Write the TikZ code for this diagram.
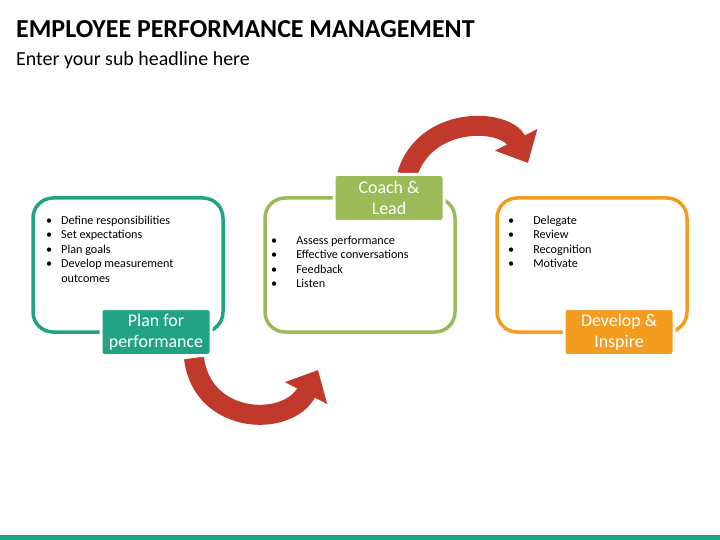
\documentclass[tikz,border=0pt]{standalone}
\usepackage{fontspec}
\setmainfont{Carlito}
\usetikzlibrary{arrows.meta}
\definecolor{teal1}{HTML}{21A383}
\definecolor{green1}{HTML}{9BBB59}
\definecolor{orange1}{HTML}{F39C1F}
\definecolor{red1}{HTML}{C0392B}
\begin{document}
\begin{tikzpicture}[x=1bp,y=-1bp,
  frame/.style={draw=#1,line width=3.5bp,rounded corners=20bp},
  lab/.style={fill=#1,draw=white,line width=3bp,rounded corners=3bp,text=white,font=\fontsize{18}{21}\selectfont,align=center,minimum width=110bp,minimum height=47bp,inner sep=0pt},
  bul/.style={anchor=north west,font=\fontsize{12.2}{14.5}\selectfont,align=left,inner sep=0pt},
  bigarrow/.style={draw=red1,line width=20bp,-{Triangle[width=46bp,length=26bp]}}]
\useasboundingbox (0,0) rectangle (720,540);
\fill[teal1] (0,535) rectangle (720,540);
\node[anchor=west,font=\fontsize{26}{30}\selectfont\bfseries,inner sep=0pt] (title) at (16,29) {EMPLOYEE PERFORMANCE MANAGEMENT};
\node[anchor=west,font=\fontsize{20}{24}\selectfont,inner sep=0pt] (sub) at (16,60) {Enter your sub headline here};
% arrows
\coordinate (a1s) at (194,358);
\coordinate (a1e) at (318,370);
\draw[bigarrow] (a1s) .. controls (202,425) and (288,428) .. (a1e);
\coordinate (a2s) at (407,175);
\coordinate (a2e) at (528,163);
\draw[bigarrow] (a2s) .. controls (425,115) and (505,118) .. (a2e);
% frames
\draw[frame=teal1] (33,198) rectangle (223,332);
\draw[frame=green1] (265,198) rectangle (455,332);
\draw[frame=orange1] (497,198) rectangle (687,332);
\node[lab=teal1] (l1) at (156,332) {Plan for\\performance};
\node[lab=green1] (l2) at (389,198) {Coach \&\\Lead};
\node[lab=orange1] (l3) at (619,332) {Develop \&\\Inspire};
\node[bul] (b1) at (46,214) {\begin{tabular}{@{}l@{\hspace{9bp}}l@{}}
•&Define responsibilities\\ •&Set expectations\\ •&Plan goals\\ •&Develop measurement\\ &outcomes\end{tabular}};
\node[bul] (b2) at (271,234) {\begin{tabular}{@{}l@{\hspace{19bp}}l@{}}
•&Assess performance\\ •&Effective conversations\\ •&Feedback\\ •&Listen\end{tabular}};
\node[bul] (b3) at (508,214) {\begin{tabular}{@{}l@{\hspace{19bp}}l@{}}
•&Delegate\\ •&Review\\ •&Recognition\\ •&Motivate\end{tabular}};
\end{tikzpicture}
\end{document}
